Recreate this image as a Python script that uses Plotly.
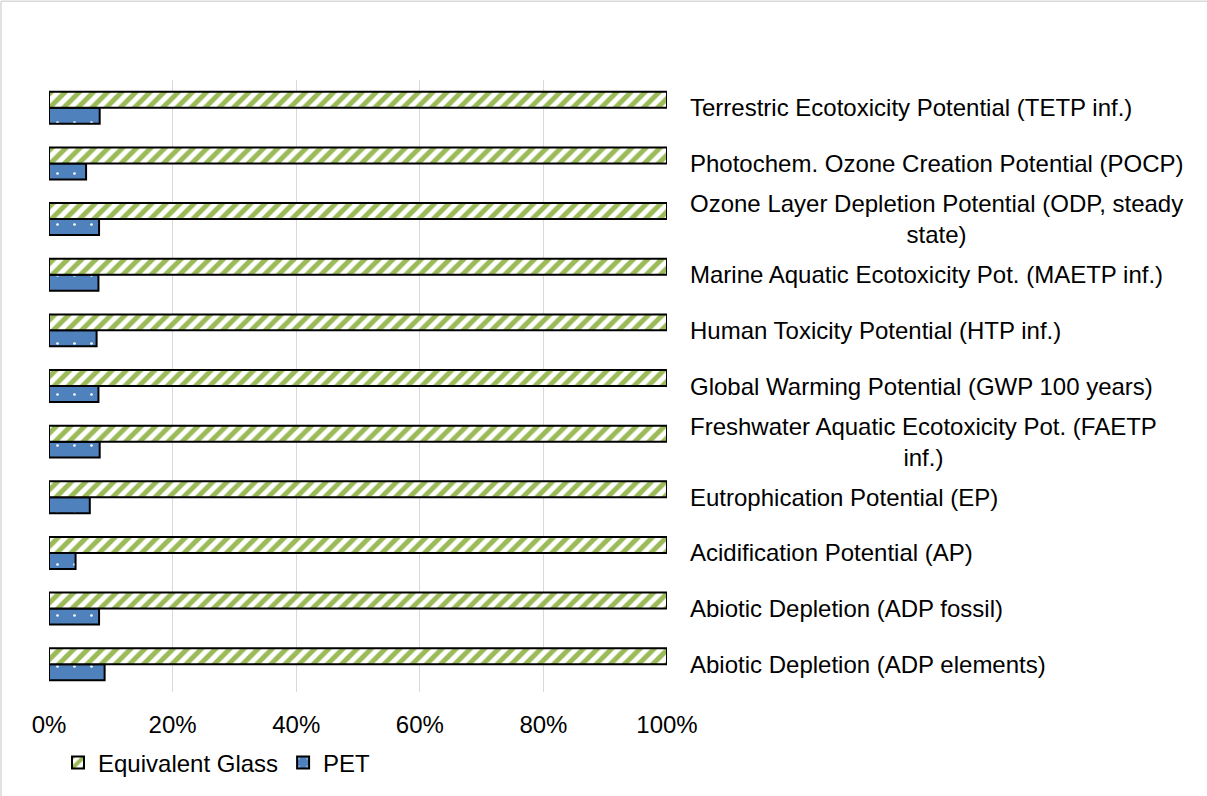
import plotly.graph_objects as go

categories = [
    "Abiotic Depletion (ADP elements)",
    "Abiotic Depletion (ADP fossil)",
    "Acidification Potential (AP)",
    "Eutrophication Potential (EP)",
    "Freshwater Aquatic Ecotoxicity Pot. (FAETP<br>inf.)",
    "Global Warming Potential (GWP 100 years)",
    "Human Toxicity Potential (HTP inf.)",
    "Marine Aquatic Ecotoxicity Pot. (MAETP inf.)",
    "Ozone Layer Depletion Potential (ODP, steady<br>state)",
    "Photochem. Ozone Creation Potential (POCP)",
    "Terrestric Ecotoxicity Potential (TETP inf.)",
]
glass = [100, 100, 100, 100, 100, 100, 100, 100, 100, 100, 100]
pet = [9.0, 8.1, 4.3, 6.6, 8.2, 8.0, 7.7, 8.0, 8.1, 6.0, 8.2]
xticks = [0, 20, 40, 60, 80, 100]
xticklabels = ["0%", "20%", "40%", "60%", "80%", "100%"]

W, H = 1207, 796
ML, MR, MT, MB = 49, 540, 80, 103
PW, PH = W - ML - MR, H - MT - MB
FONT = "Arial, Liberation Sans, sans-serif"
FS = 24

fig = go.Figure()
fig.add_trace(go.Bar(
    y=categories, x=pet, orientation="h", name="PET",
    marker=dict(color="#4F81BD", line=dict(color="black", width=2),
                pattern=dict(shape=".", fgcolor="white", bgcolor="#4F81BD",
                             size=17, solidity=0.02, fillmode="replace")),
))
fig.add_trace(go.Bar(
    y=categories, x=glass, orientation="h", name="Equivalent Glass",
    marker=dict(color="#9BBB59", line=dict(color="black", width=2),
                pattern=dict(shape="/", fgcolor="#9BBB59", bgcolor="white",
                             size=10, solidity=0.5, fillmode="replace")),
))

for c in categories:
    fig.add_annotation(x=1, xref="paper", y=c, yref="y", text=c,
                       xanchor="left", yanchor="middle", align="center",
                       xshift=21, showarrow=False,
                       font=dict(family=FONT, size=FS, color="black"))

def px_x(p):
    return (p - ML) / PW

def px_y(p):
    return 1 - (p - MT) / PH

fig.add_shape(type="line", xref="paper", yref="paper",
              x0=px_x(1), x1=px_x(1), y0=px_y(1), y1=px_y(H + 5),
              line=dict(color="#D9D9D9", width=1.5))
fig.add_shape(type="line", xref="paper", yref="paper",
              x0=px_x(1), x1=px_x(W + 5), y0=px_y(1), y1=px_y(1),
              line=dict(color="#D9D9D9", width=1.5))

fig.update_layout(
    width=W, height=H,
    margin=dict(l=ML, r=MR, t=MT, b=MB),
    paper_bgcolor="white", plot_bgcolor="white",
    barmode="group", bargap=0.426, bargroupgap=0,
    font=dict(family=FONT, size=FS, color="black"),
    showlegend=True,
    legend=dict(orientation="h", traceorder="reversed",
                x=px_x(58), xanchor="left", y=px_y(763), yanchor="middle",
                font=dict(family=FONT, size=FS, color="black"),
                bgcolor="rgba(0,0,0,0)"),
    xaxis=dict(range=[0, 100], tickvals=xticks, ticktext=xticklabels,
               showgrid=True, gridcolor="#D9D9D9", gridwidth=1,
               zeroline=False, showline=False, ticks="",
               ticklabelstandoff=16,
               tickfont=dict(family=FONT, size=FS, color="black")),
    yaxis=dict(type="category", categoryorder="array", categoryarray=categories,
               showticklabels=False, showgrid=False, zeroline=False,
               showline=False, ticks=""),
)

fig.write_html("out.html")
